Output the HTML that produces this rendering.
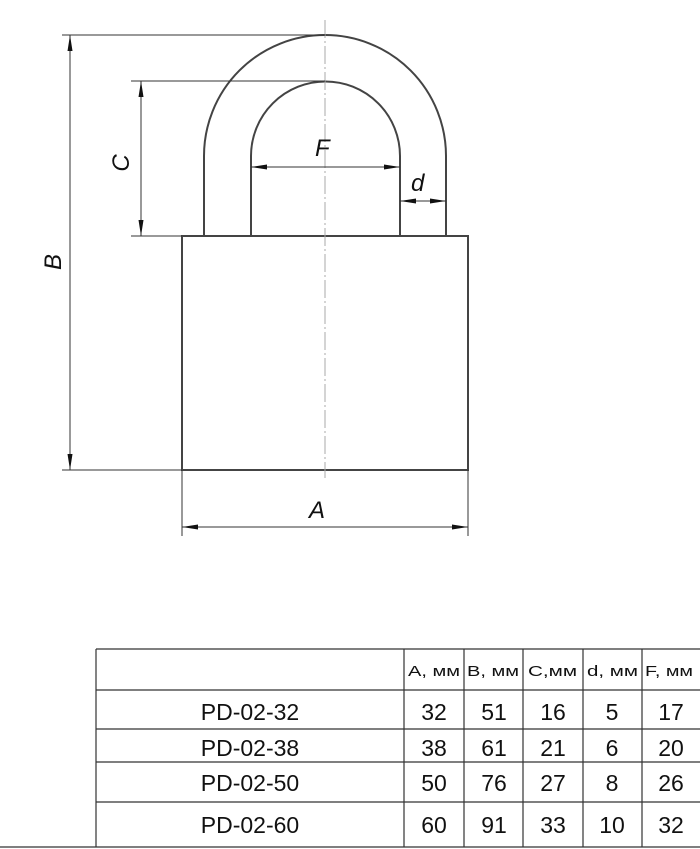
<!DOCTYPE html>
<html><head><meta charset="utf-8"><style>
html,body{margin:0;padding:0;background:#fff;}
svg{display:block}
text{font-family:"Liberation Sans",sans-serif;fill:#111}
</style></head><body>
<svg width="700" height="849" viewBox="0 0 700 849" xmlns="http://www.w3.org/2000/svg">
<defs>
<marker id="ar" viewBox="0 0 16 8" refX="16" refY="4" markerWidth="16" markerHeight="8" orient="auto-start-reverse" markerUnits="userSpaceOnUse">
<path d="M0,1.5 L16,4 L0,6.5 Z" fill="#111"/></marker>
</defs>
<g fill="none" stroke="#444" stroke-width="2">
<path d="M204,236 V156 A121,121 0 0 1 446,156 V236"/>
<path d="M251,236 V156 A74.5,74.5 0 0 1 400,156 V236"/>
<rect x="182" y="236" width="286" height="234"/>
</g>
<line x1="325" y1="20" x2="325" y2="478" stroke="#aaa" stroke-width="1" stroke-dasharray="18,3,2,3"/>
<g stroke="#333" stroke-width="1">
<line x1="62" y1="35" x2="325" y2="35"/>
<line x1="62" y1="470" x2="182" y2="470"/>
<line x1="131" y1="81" x2="325" y2="81"/>
<line x1="131" y1="236" x2="182" y2="236"/>
<line x1="182" y1="470" x2="182" y2="536"/>
<line x1="468" y1="470" x2="468" y2="536"/>
<line x1="70" y1="35" x2="70" y2="470" marker-start="url(#ar)" marker-end="url(#ar)"/>
<line x1="141" y1="81" x2="141" y2="236" marker-start="url(#ar)" marker-end="url(#ar)"/>
<line x1="251" y1="167" x2="400" y2="167" marker-start="url(#ar)" marker-end="url(#ar)"/>
<line x1="400" y1="201" x2="446" y2="201" marker-start="url(#ar)" marker-end="url(#ar)"/>
<line x1="182" y1="527" x2="468" y2="527" marker-start="url(#ar)" marker-end="url(#ar)"/>
</g>
<g font-style="italic" font-size="24">
<text x="315" y="156">F</text>
<text x="411" y="191">d</text>
<text x="309" y="518">A</text>
<text transform="translate(129,163) rotate(-90)" text-anchor="middle">C</text>
<text transform="translate(61,262) rotate(-90)" text-anchor="middle">B</text>
</g>
<g stroke="#333" stroke-width="1.2" fill="none">
<line x1="96" y1="649" x2="700" y2="649"/>
<line x1="96" y1="690" x2="700" y2="690"/>
<line x1="96" y1="729" x2="700" y2="729"/>
<line x1="96" y1="762" x2="700" y2="762"/>
<line x1="96" y1="802" x2="700" y2="802"/>
<line x1="0" y1="847" x2="700" y2="847"/>
<line x1="96" y1="649" x2="96" y2="847"/>
<line x1="404" y1="649" x2="404" y2="847"/>
<line x1="464" y1="649" x2="464" y2="847"/>
<line x1="523" y1="649" x2="523" y2="847"/>
<line x1="583" y1="649" x2="583" y2="847"/>
<line x1="642" y1="649" x2="642" y2="847"/>
</g>
<g font-size="14.5">
<text x="408" y="676" textLength="52" lengthAdjust="spacingAndGlyphs">A, мм</text>
<text x="467" y="676" textLength="52" lengthAdjust="spacingAndGlyphs">B, мм</text>
<text x="528" y="676" textLength="49" lengthAdjust="spacingAndGlyphs">C,мм</text>
<text x="587" y="676" textLength="51" lengthAdjust="spacingAndGlyphs">d, мм</text>
<text x="645" y="676" textLength="48" lengthAdjust="spacingAndGlyphs">F, мм</text>
</g>
<g font-size="23" text-anchor="middle">
<text x="250" y="720">PD-02-32</text>
<text x="250" y="756">PD-02-38</text>
<text x="250" y="791">PD-02-50</text>
<text x="250" y="833">PD-02-60</text>
<text x="434" y="720">32</text><text x="494" y="720">51</text><text x="553" y="720">16</text><text x="612" y="720">5</text><text x="671" y="720">17</text>
<text x="434" y="756">38</text><text x="494" y="756">61</text><text x="553" y="756">21</text><text x="612" y="756">6</text><text x="671" y="756">20</text>
<text x="434" y="791">50</text><text x="494" y="791">76</text><text x="553" y="791">27</text><text x="612" y="791">8</text><text x="671" y="791">26</text>
<text x="434" y="833">60</text><text x="494" y="833">91</text><text x="553" y="833">33</text><text x="612" y="833">10</text><text x="671" y="833">32</text>
</g>
</svg>
</body></html>
